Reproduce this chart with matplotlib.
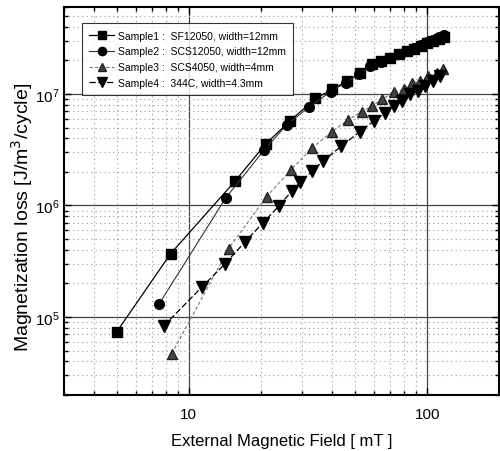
import matplotlib
matplotlib.use("Agg")
import matplotlib.pyplot as plt
from matplotlib.ticker import LogLocator, NullFormatter
from matplotlib import font_manager

plt.rcParams['font.family'] = ['Liberation Sans', 'DejaVu Sans']

# Sample1: SF12050
s1_x = [5.0, 8.4, 15.6, 21.0, 26.5, 34.0, 40.0, 46.0, 52.5, 58.8, 64, 70, 76, 82, 88, 94, 100, 106, 112, 118]
s1_y = [7.4e4, 3.7e5, 1.64e6, 3.55e6, 5.7e6, 9.1e6, 1.1e7, 1.3e7, 1.55e7, 1.84e7,
        1.97e7, 2.12e7, 2.27e7, 2.42e7, 2.55e7, 2.7e7, 2.85e7, 2.98e7, 3.12e7, 3.25e7]
# Sample2: SCS12050
s2_x = [7.5, 14.3, 20.7, 25.8, 31.9, 39.4, 45.5, 51.7, 57.8, 64, 70, 76, 82, 88, 94, 100, 106, 112, 118]
s2_y = [1.3e5, 1.17e6, 3.14e6, 5.3e6, 7.6e6, 1.05e7, 1.26e7, 1.5e7, 1.78e7,
        1.95e7, 2.11e7, 2.28e7, 2.44e7, 2.6e7, 2.76e7, 2.92e7, 3.07e7, 3.23e7, 3.38e7]
# Sample3: SCS4050
s3_x = [8.5, 14.7, 21.2, 26.8, 33.0, 39.8, 46.7, 53.1, 58.8, 64.7, 72.4, 79.8, 86.3, 93.5, 101, 110, 117]
s3_y = [4.7e4, 4.1e5, 1.2e6, 2.08e6, 3.3e6, 4.57e6, 5.87e6, 6.95e6, 7.8e6, 8.98e6,
        1.03e7, 1.1e7, 1.26e7, 1.3e7, 1.45e7, 1.55e7, 1.66e7]
# Sample4: 344C
s4_x = [7.85, 11.4, 14.2, 17.2, 20.5, 23.8, 27.0, 29.4, 33.0, 36.6, 43.6, 52.3, 59.7, 66.4, 72.4, 78.5, 85, 91.6, 98, 105.7, 113.5]
s4_y = [8.3e4, 1.87e5, 3.0e5, 4.7e5, 7.0e5, 9.8e5, 1.34e6, 1.62e6, 2.04e6, 2.5e6, 3.4e6,
        4.6e6, 5.7e6, 6.7e6, 7.8e6, 8.6e6, 1.0e7, 1.07e7, 1.18e7, 1.3e7, 1.45e7]

labels = ['Sample1 :  SF12050, width=12mm',
          'Sample2 :  SCS12050, width=12mm',
          'Sample3 :  SCS4050, width=4mm',
          'Sample4 :  344C, width=4.3mm']

fig = plt.figure(figsize=(5.0, 4.52), dpi=100)
ax = fig.add_axes([0.128, 0.124, 0.870, 0.858])
ax.set_xscale('log')
ax.set_yscale('log')
ax.set_xlim(3, 200)
ax.set_ylim(2e4, 6e7)

ax.plot(s1_x, s1_y, '-', color='black', lw=0.9, marker='s', ms=6.5, mfc='black', mec='black', label=labels[0], zorder=5)
ax.plot(s2_x, s2_y, '-', color='#333333', lw=0.8, marker='o', ms=7, mfc='black', mec='black', label=labels[1], zorder=5)
ax.plot(s3_x, s3_y, '--', color='#777777', lw=0.8, dashes=(3, 2), marker='^', ms=6.5, mfc='#444444', mec='#222222', label=labels[2], zorder=5)
ax.plot(s4_x, s4_y, '--', color='black', lw=0.9, dashes=(5, 2), marker='v', ms=8, mfc='black', mec='black', label=labels[3], zorder=5)

ax.xaxis.set_major_locator(LogLocator(base=10, numticks=10))
ax.xaxis.set_minor_locator(LogLocator(base=10, subs=range(2, 10), numticks=20))
ax.yaxis.set_major_locator(LogLocator(base=10, numticks=10))
ax.yaxis.set_minor_locator(LogLocator(base=10, subs=range(2, 10), numticks=20))
ax.xaxis.set_minor_formatter(NullFormatter())
ax.yaxis.set_minor_formatter(NullFormatter())
ax.set_xticks([10, 100])
ax.set_xticklabels(['10', '100'])

ax.grid(True, which='major', color='#444444', lw=0.9, ls='-')
ax.grid(True, which='minor', color='#999999', lw=0.8, ls=(0, (1, 3)))
ax.set_axisbelow(True)

ax.tick_params(which='both', direction='in', top=True, right=True, labelsize=11)
ax.tick_params(which='major', length=5, width=1)
ax.tick_params(which='minor', length=3, width=1)
ax.tick_params(axis='x', which='major', pad=9)
for s in ax.spines.values():
    s.set_linewidth(1.5)

ax.set_xlabel('External Magnetic Field [ mT ]', fontsize=12, labelpad=8)
ax.set_ylabel('Magnetization loss [J/m$^3$/cycle]', fontsize=14)
ax.yaxis.set_label_coords(-0.066, 0.46)

names = {f.name for f in font_manager.fontManager.ttflist}
legfam = ['Liberation Sans Narrow', 'Liberation Sans'] if 'Liberation Sans Narrow' in names else ['Liberation Sans']
leg = ax.legend(loc='upper left', bbox_to_anchor=(0.041, 0.958),
                prop={'family': legfam, 'size': 7.5}, frameon=True,
                fancybox=False, edgecolor='black', handlelength=2.4, handletextpad=0.4,
                borderpad=0.7, labelspacing=0.55, markerscale=0.85, borderaxespad=0)
leg.get_frame().set_linewidth(0.8)
leg.set_zorder(10)

fig.savefig('out.png', dpi=100)
